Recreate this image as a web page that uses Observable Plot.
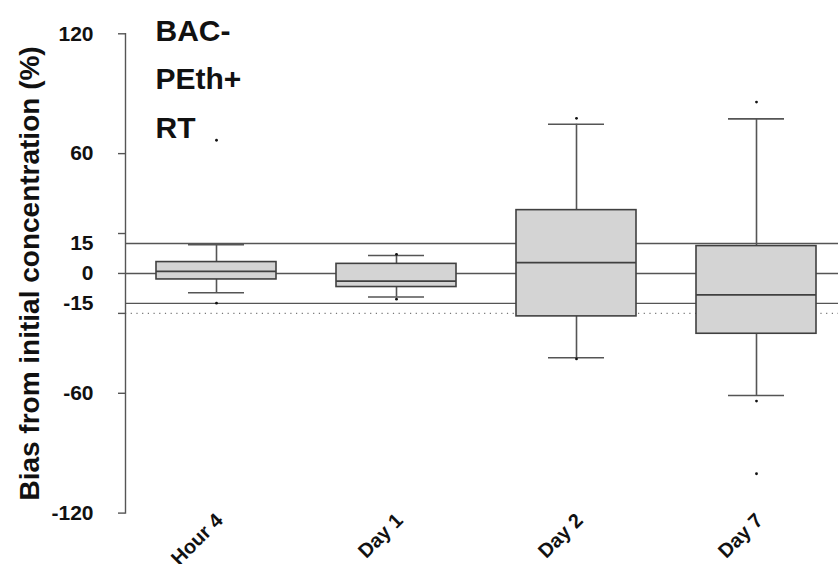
<!DOCTYPE html>
<html>
<head>
<meta charset="utf-8">
<script src="https://cdn.jsdelivr.net/npm/d3@7"></script>
<script src="https://cdn.jsdelivr.net/npm/@observablehq/plot@0.6"></script>
<style>
  html, body { margin: 0; padding: 0; background: #fff; }
  #chart svg { display: block; overflow: visible; }
</style>
</head>
<body>
<div id="chart"></div>
<script>
// ---- data ----
const categories = ["Hour 4", "Day 1", "Day 2", "Day 7"];
const whiskerHigh = [14.4, 9.0, 74.7, 77.4];
const q3 = [5.7, 4.8, 31.7, 13.7];
const median = [1.0, -3.8, 5.4, -10.7];
const q1 = [-3.0, -6.8, -21.5, -30.2];
const whiskerLow = [-9.7, -11.8, -42.2, -61.1];
const outlierCategory = ["Hour 4", "Hour 4", "Day 1", "Day 1", "Day 2", "Day 2", "Day 7", "Day 7", "Day 7"];
const outlierValue = [66.7, -14.9, 9.6, -12.9, 77.7, -42.8, 85.8, -63.9, -100.3];
const refLines = [15, 0, -15];
const dottedLine = [-20];
const yTickMarks = [120, 60, 20, 0, -20, -60, -120];
const yTickLabels = [120, 60, 15, 0, -15, -60, -120];
const yTitle = "Bias from initial concentration (%)";
const panelTitle = "BAC-\nPEth+\nRT";

// ---- tables built from the arrays ----
const boxes = categories.map((c, i) => ({
  cat: c, lo: whiskerLow[i], q1: q1[i], med: median[i], q3: q3[i], hi: whiskerHigh[i]
}));
const outliers = outlierCategory.map((c, i) => ({cat: c, v: outlierValue[i]}));

const font = "'Liberation Sans', Arial, sans-serif";
const lineColor = "#555";
const boxStroke = "#404040";
const capInset = 32;

const chart = Plot.plot({
  width: 838,
  height: 564,
  marginLeft: 125,
  marginRight: 0,
  marginTop: 33.3,
  marginBottom: 51.4,
  style: {fontFamily: font, background: "#fff", color: "#000"},
  x: {domain: categories, range: [125, 847.4], paddingInner: 0.335, paddingOuter: 0.1675, axis: null},
  y: {domain: [-120, 120], axis: null},
  marks: [
    // reference lines
    Plot.ruleY(refLines, {stroke: lineColor, strokeWidth: 1.4}),
    Plot.ruleY(dottedLine, {stroke: "#777", strokeWidth: 1.2, strokeDasharray: "1.2,4.5"}),
    // y axis line
    Plot.frame({anchor: "left", stroke: lineColor, strokeWidth: 1.4}),
    // y ticks (marks only)
    Plot.axisY({ticks: yTickMarks, tickSize: 7, tickFormat: () => "", stroke: lineColor, strokeWidth: 1.4, anchor: "left"}),
    // y tick labels (hyphen minus as in the reference)
    Plot.axisY({ticks: yTickLabels, tickSize: 0, tickPadding: 32, anchor: "left",
      tickFormat: d => String(d), fontSize: 21, fontWeight: "bold", fill: "#111"}),
    // whiskers
    Plot.ruleX(boxes, {x: "cat", y1: "q3", y2: "hi", stroke: lineColor, strokeWidth: 1.6}),
    Plot.ruleX(boxes, {x: "cat", y1: "lo", y2: "q1", stroke: lineColor, strokeWidth: 1.6}),
    Plot.tickY(boxes, {x: "cat", y: "hi", insetLeft: capInset, insetRight: capInset, stroke: lineColor, strokeWidth: 1.6}),
    Plot.tickY(boxes, {x: "cat", y: "lo", insetLeft: capInset, insetRight: capInset, stroke: lineColor, strokeWidth: 1.6}),
    // boxes
    Plot.barY(boxes, {x: "cat", y1: "q1", y2: "q3", fill: "#d4d4d4", stroke: boxStroke, strokeWidth: 1.6}),
    Plot.tickY(boxes, {x: "cat", y: "med", stroke: boxStroke, strokeWidth: 1.8}),
    // outliers
    Plot.dot(outliers, {x: "cat", y: "v", r: 1.4, fill: "#111", stroke: null}),
    // x labels
    Plot.text(categories, {x: d => d, y: () => -120, text: d => d, rotate: -45, textAnchor: "end",
      lineAnchor: "middle", dx: 3, dy: 4, fontSize: 20, fontWeight: "bold", fill: "#111"}),
    // y title
    Plot.text([yTitle], {frameAnchor: "left", dx: -95, rotate: -90, textAnchor: "middle",
      lineAnchor: "middle", fontSize: 28, fontWeight: "bold", fill: "#111"}),
    // panel title
    Plot.text([panelTitle], {frameAnchor: "top-left", dx: 30, dy: -28, textAnchor: "start",
      lineAnchor: "top", lineHeight: 1.63, fontSize: 30, fontWeight: "bold", fill: "#111"})
  ]
});
document.getElementById("chart").appendChild(chart);
</script>
</body>
</html>
